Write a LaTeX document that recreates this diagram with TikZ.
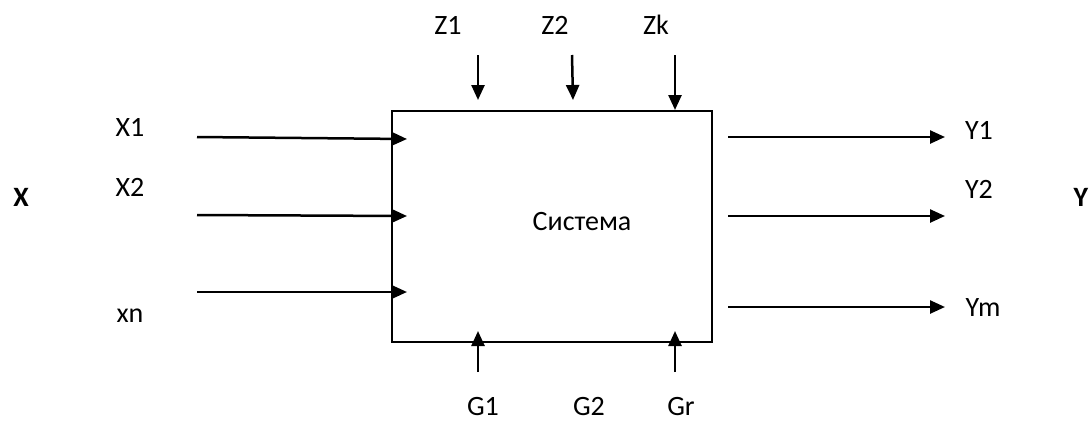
\documentclass[tikz,border=0pt]{standalone}
\usepackage{fontspec}
\setmainfont{Carlito}
\usetikzlibrary{arrows.meta}
\begin{document}
\begin{tikzpicture}[x=1pt,y=-1pt,
  lbl/.style={font=\fontsize{28}{32}\selectfont, inner sep=0pt},
  big/.style={font=\fontsize{28}{32}\selectfont\bfseries, inner sep=0pt},
  arr/.style={line width=2.5pt, -{Triangle[length=15pt,width=13pt]}},
  sysbox/.style={draw, line width=2.5pt, minimum width=320pt, minimum height=231pt, inner sep=0pt}]
\useasboundingbox (0,0) rectangle (1089,421);
\node[sysbox] (sys) at (552,226.5) {};
\node[lbl] (systxt) at (582,222) {Система};
% inputs
\coordinate (x1s) at (197,137);  \coordinate (x1e) at (407,139);
\coordinate (x2s) at (197,215);  \coordinate (x2e) at (407,216);
\coordinate (xns) at (197,292);  \coordinate (xne) at (407,292);
\draw[arr] (x1s) -- (x1e);
\draw[arr] (x2s) -- (x2e);
\draw[arr] (xns) -- (xne);
\node[lbl] (lx1) at (130,127) {X1};
\node[lbl] (lx2) at (130,187) {X2};
\node[lbl] (lxn) at (130,316) {xn};
\node[big] (lX) at (21,197) {X};
% outputs
\coordinate (y1s) at (728,137);  \coordinate (y1e) at (945,137);
\coordinate (y2s) at (728,216);  \coordinate (y2e) at (945,216);
\coordinate (yms) at (728,307);  \coordinate (yme) at (945,307);
\draw[arr] (y1s) -- (y1e);
\draw[arr] (y2s) -- (y2e);
\draw[arr] (yms) -- (yme);
\node[lbl] (ly1) at (979,130) {Y1};
\node[lbl] (ly2) at (979,189) {Y2};
\node[lbl] (lym) at (983,308) {Ym};
\node[big] (lY) at (1081,197) {Y};
% top
\coordinate (z1s) at (478,55);  \coordinate (z1e) at (478,100);
\coordinate (z2s) at (572,55);  \coordinate (z2e) at (573,100);
\coordinate (zks) at (675,55);  \coordinate (zke) at (675,110);
\draw[arr] (z1s) -- (z1e);
\draw[arr] (z2s) -- (z2e);
\draw[arr] (zks) -- (zke);
\node[lbl] (lz1) at (448,25) {Z1};
\node[lbl] (lz2) at (555,25) {Z2};
\node[lbl] (lzk) at (656,25) {Zk};
% bottom
\coordinate (g1s) at (478,372);  \coordinate (g1e) at (478,331);
\coordinate (grs) at (675,372);  \coordinate (gre) at (675,331);
\draw[arr] (g1s) -- (g1e);
\draw[arr] (grs) -- (gre);
\node[lbl, anchor=base] (lg1) at (483,415) {G1};
\node[lbl, anchor=base] (lg2) at (589,415) {G2};
\node[lbl, anchor=base] (lgr) at (681,415) {Gr};
\end{tikzpicture}
\end{document}
